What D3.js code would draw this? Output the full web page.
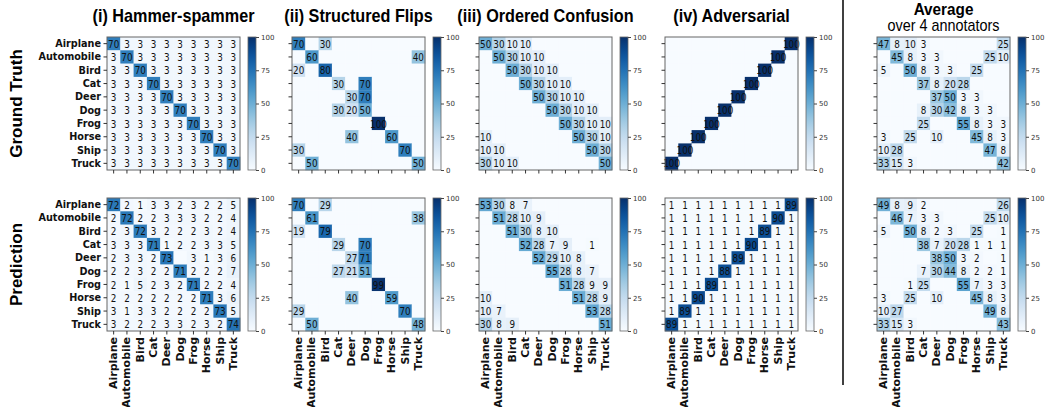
<!DOCTYPE html>
<html lang="en">
<head>
<meta charset="UTF-8">
<title>Annotator confusion matrices</title>
<script src="https://d3js.org/d3.v7.min.js"></script>
<style>
  body { margin: 0; background: #fff; }
  text { font-family: "DejaVu Sans", sans-serif; }
</style>
</head>
<body>
<svg id="chart" width="1048" height="407"></svg>
<script>
// class names (rows = true class, columns = assigned class)
var classes = ["Airplane", "Automobile", "Bird", "Cat", "Deer", "Dog", "Frog", "Horse", "Ship", "Truck"];
var titles = ["(i) Hammer-spammer", "(ii) Structured Flips", "(iii) Ordered Confusion", "(iv) Adversarial"];
var rowLabels = ["Ground Truth", "Prediction"];
var cbarTicks = [0, 25, 50, 75, 100];

// ground truth matrices
var gtHammer = [
  [70,3,3,3,3,3,3,3,3,3],
  [3,70,3,3,3,3,3,3,3,3],
  [3,3,70,3,3,3,3,3,3,3],
  [3,3,3,70,3,3,3,3,3,3],
  [3,3,3,3,70,3,3,3,3,3],
  [3,3,3,3,3,70,3,3,3,3],
  [3,3,3,3,3,3,70,3,3,3],
  [3,3,3,3,3,3,3,70,3,3],
  [3,3,3,3,3,3,3,3,70,3],
  [3,3,3,3,3,3,3,3,3,70]
];
var gtFlips = [
  [70,0,30,0,0,0,0,0,0,0],
  [0,60,0,0,0,0,0,0,0,40],
  [20,0,80,0,0,0,0,0,0,0],
  [0,0,0,30,0,70,0,0,0,0],
  [0,0,0,0,30,70,0,0,0,0],
  [0,0,0,30,20,50,0,0,0,0],
  [0,0,0,0,0,0,100,0,0,0],
  [0,0,0,0,40,0,0,60,0,0],
  [30,0,0,0,0,0,0,0,70,0],
  [0,50,0,0,0,0,0,0,0,50]
];
var gtOrdered = [
  [50,30,10,10,0,0,0,0,0,0],
  [0,50,30,10,10,0,0,0,0,0],
  [0,0,50,30,10,10,0,0,0,0],
  [0,0,0,50,30,10,10,0,0,0],
  [0,0,0,0,50,30,10,10,0,0],
  [0,0,0,0,0,50,30,10,10,0],
  [0,0,0,0,0,0,50,30,10,10],
  [10,0,0,0,0,0,0,50,30,10],
  [10,10,0,0,0,0,0,0,50,30],
  [30,10,10,0,0,0,0,0,0,50]
];
var gtAdversarial = [
  [0,0,0,0,0,0,0,0,0,100],
  [0,0,0,0,0,0,0,0,100,0],
  [0,0,0,0,0,0,0,100,0,0],
  [0,0,0,0,0,0,100,0,0,0],
  [0,0,0,0,0,100,0,0,0,0],
  [0,0,0,0,100,0,0,0,0,0],
  [0,0,0,100,0,0,0,0,0,0],
  [0,0,100,0,0,0,0,0,0,0],
  [0,100,0,0,0,0,0,0,0,0],
  [100,0,0,0,0,0,0,0,0,0]
];
var gtAverage = [
  [47,8,10,3,0,0,0,0,0,25],
  [0,45,8,3,3,0,0,0,25,10],
  [5,0,50,8,3,3,0,25,0,0],
  [0,0,0,37,8,20,28,0,0,0],
  [0,0,0,0,37,50,3,3,0,0],
  [0,0,0,8,30,42,8,3,3,0],
  [0,0,0,25,0,0,55,8,3,3],
  [3,0,25,0,10,0,0,45,8,3],
  [10,28,0,0,0,0,0,0,47,8],
  [33,15,3,0,0,0,0,0,0,42]
];

// predicted matrices
var predHammer = [
  [72,2,1,3,3,2,3,2,2,5],
  [2,72,2,2,3,3,3,2,2,4],
  [2,3,72,3,2,2,2,3,2,4],
  [3,3,3,71,1,2,2,3,3,5],
  [2,3,3,2,73,0,3,1,3,6],
  [2,2,3,2,2,71,2,2,2,7],
  [2,1,5,2,3,2,71,2,2,4],
  [2,2,2,2,2,2,2,71,3,6],
  [3,1,3,3,2,2,2,2,73,5],
  [3,2,2,2,3,3,2,3,2,74]
];
var predFlips = [
  [70,0,29,0,0,0,0,0,0,0],
  [0,61,0,0,0,0,0,0,0,38],
  [19,0,79,0,0,0,0,0,0,0],
  [0,0,0,29,0,70,0,0,0,0],
  [0,0,0,0,27,71,0,0,0,0],
  [0,0,0,27,21,51,0,0,0,0],
  [0,0,0,0,0,0,99,0,0,0],
  [0,0,0,0,40,0,0,59,0,0],
  [29,0,0,0,0,0,0,0,70,0],
  [0,50,0,0,0,0,0,0,0,48]
];
var predOrdered = [
  [53,30,8,7,0,0,0,0,0,0],
  [0,51,28,10,9,0,0,0,0,0],
  [0,0,51,30,8,10,0,0,0,0],
  [0,0,0,52,28,7,9,0,1,0],
  [0,0,0,0,52,29,10,8,0,0],
  [0,0,0,0,0,55,28,8,7,0],
  [0,0,0,0,0,0,51,28,9,9],
  [10,0,0,0,0,0,0,51,28,9],
  [10,7,0,0,0,0,0,0,53,28],
  [30,8,9,0,0,0,0,0,0,51]
];
var predAdversarial = [
  [1,1,1,1,1,1,1,1,1,89],
  [1,1,1,1,1,1,1,1,90,1],
  [1,1,1,1,1,1,1,89,1,1],
  [1,1,1,1,1,1,90,1,1,1],
  [1,1,1,1,1,89,1,1,1,1],
  [1,1,1,1,88,1,1,1,1,1],
  [1,1,1,89,1,1,1,1,1,1],
  [1,1,90,1,1,1,1,1,1,1],
  [1,89,1,1,1,1,1,1,1,1],
  [89,1,1,1,1,1,1,1,1,1]
];
var predAverage = [
  [49,8,9,2,0,0,0,0,0,26],
  [0,46,7,3,3,0,0,0,25,10],
  [5,0,50,8,2,3,0,25,0,1],
  [0,0,0,38,7,20,28,1,1,1],
  [0,0,0,0,38,50,3,2,0,1],
  [0,0,0,7,30,44,8,2,2,1],
  [0,0,1,25,0,0,55,7,3,3],
  [3,0,25,0,10,0,0,45,8,3],
  [10,27,0,0,0,0,0,0,49,8],
  [33,15,3,0,0,0,0,0,0,43]
];

var grid = [
  [gtHammer, gtFlips, gtOrdered, gtAdversarial, gtAverage],
  [predHammer, predFlips, predOrdered, predAdversarial, predAverage]
];

var svg = d3.select("#chart");
var size = 133;
var lefts = [107, 292, 479, 665, 877];
var tops = [37, 198];
var squeeze = 0.8;   // the original figure is squashed horizontally
var color = d3.scaleSequential(d3.interpolateBlues).domain([0, 100]);
var sans = "'Liberation Sans', Arial, sans-serif";

// gradient for the colorbars
var grad = svg.append("defs").append("linearGradient")
  .attr("id", "blues").attr("x1", 0).attr("y1", 1).attr("x2", 0).attr("y2", 0);
grad.selectAll("stop").data(d3.range(0, 1.001, 0.05)).enter().append("stop")
  .attr("offset", function(d){ return d; })
  .attr("stop-color", function(d){ return color(d * 100); });

function drawMatrix(mat, r, c) {
  var x0 = lefts[c], y0 = tops[r];
  var x = d3.scaleBand().domain(d3.range(10)).range([x0, x0 + size]);
  var y = d3.scaleBand().domain(d3.range(10)).range([y0, y0 + size]);
  var g = svg.append("g");

  var cells = [];
  mat.forEach(function(row, i){ row.forEach(function(v, j){ cells.push({i: i, j: j, v: v}); }); });

  g.selectAll("rect.cell").data(cells).enter().append("rect")
    .attr("class", "cell")
    .attr("x", function(d){ return x(d.j); })
    .attr("y", function(d){ return y(d.i); })
    .attr("width", x.bandwidth() + 0.3)
    .attr("height", y.bandwidth() + 0.3)
    .attr("fill", function(d){ return color(d.v); });

  g.selectAll("text.val").data(cells.filter(function(d){ return d.v > 0; })).enter().append("text")
    .attr("class", "val")
    .attr("transform", function(d){
      return "translate(" + (x(d.j) + x.bandwidth() / 2) + "," + (y(d.i) + y.bandwidth() / 2) + ") scale(" + squeeze + ",1)";
    })
    .attr("dy", "0.37em")
    .attr("text-anchor", "middle")
    .attr("font-size", "11px")
    .attr("fill", "#111")
    .text(function(d){ return d.v; });

  // frame
  g.append("rect").attr("x", x0).attr("y", y0).attr("width", size).attr("height", size)
    .attr("fill", "none").attr("stroke", "#666").attr("stroke-width", 1);

  // y ticks (labels only on the first column)
  var yAxis = d3.axisLeft(y).tickSize(3.5).tickPadding(3)
    .tickFormat(function(d){ return c === 0 ? classes[d] : ""; });
  var ya = g.append("g").attr("transform", "translate(" + x0 + ",0)").call(yAxis);
  ya.select(".domain").remove();
  ya.selectAll("line").attr("stroke", "#333");
  ya.selectAll("text").attr("font-weight", "bold").attr("font-size", "11px").attr("fill", "#111")
    .attr("x", 0).attr("transform", "translate(-6,0) scale(0.88,1)");

  // x ticks (labels only on the bottom row)
  var xAxis = d3.axisBottom(x).tickSize(3.5).tickPadding(3)
    .tickFormat(function(d){ return r === 1 ? classes[d] : ""; });
  var xa = g.append("g").attr("transform", "translate(0," + (y0 + size) + ")").call(xAxis);
  xa.select(".domain").remove();
  xa.selectAll("line").attr("stroke", "#333");
  xa.selectAll("text")
    .attr("font-weight", "bold").attr("font-size", "11px").attr("fill", "#111")
    .attr("text-anchor", "end")
    .attr("transform", "rotate(-90) scale(1,0.88)")
    .attr("x", -6).attr("y", 0).attr("dy", "0.36em");

  // colorbar
  var cbX = x0 + size + 8, cbW = 8;
  g.append("rect").attr("x", cbX).attr("y", y0).attr("width", cbW).attr("height", size)
    .attr("fill", "url(#blues)").attr("stroke", "#666").attr("stroke-width", 0.8);
  var cb = d3.scaleLinear().domain([0, 100]).range([y0 + size, y0]);
  var ca = g.append("g").attr("transform", "translate(" + (cbX + cbW) + ",0)")
    .call(d3.axisRight(cb).tickValues(cbarTicks).tickSize(3).tickPadding(2));
  ca.select(".domain").remove();
  ca.selectAll("line").attr("stroke", "#444");
  ca.selectAll("text").attr("font-size", "7px").attr("fill", "#333");
}

grid.forEach(function(row, r){
  row.forEach(function(mat, c){ drawMatrix(mat, r, c); });
});

// column titles
svg.selectAll("text.title").data(titles).enter().append("text")
  .attr("class", "title")
  .attr("transform", function(d, i){ return "translate(" + (lefts[i] + size / 2) + ",22) scale(0.9,1)"; })
  .attr("text-anchor", "middle")
  .style("font-family", sans)
  .attr("font-weight", "bold")
  .attr("font-size", "18px")
  .text(function(d){ return d; });

svg.append("text").attr("transform", "translate(" + (lefts[4] + size / 2) + ",15) scale(0.9,1)")
  .attr("text-anchor", "middle").style("font-family", sans)
  .attr("font-weight", "bold").attr("font-size", "17px").text("Average");
svg.append("text").attr("transform", "translate(" + (lefts[4] + size / 2) + ",31) scale(0.9,1)")
  .attr("text-anchor", "middle").style("font-family", sans)
  .attr("font-size", "16px").text("over 4 annotators");

// row labels
svg.selectAll("text.rowlab").data(rowLabels).enter().append("text")
  .attr("class", "rowlab")
  .attr("transform", function(d, i){ return "translate(22," + (tops[i] + size / 2) + ") rotate(-90)"; })
  .attr("text-anchor", "middle")
  .style("font-family", sans)
  .attr("font-weight", "bold")
  .attr("font-size", "17px")
  .text(function(d){ return d; });

// divider between single annotators and the average
svg.append("line").attr("x1", 843).attr("x2", 843).attr("y1", 0).attr("y2", 385)
  .attr("stroke", "#000").attr("stroke-width", 1.5);
</script>
</body>
</html>
